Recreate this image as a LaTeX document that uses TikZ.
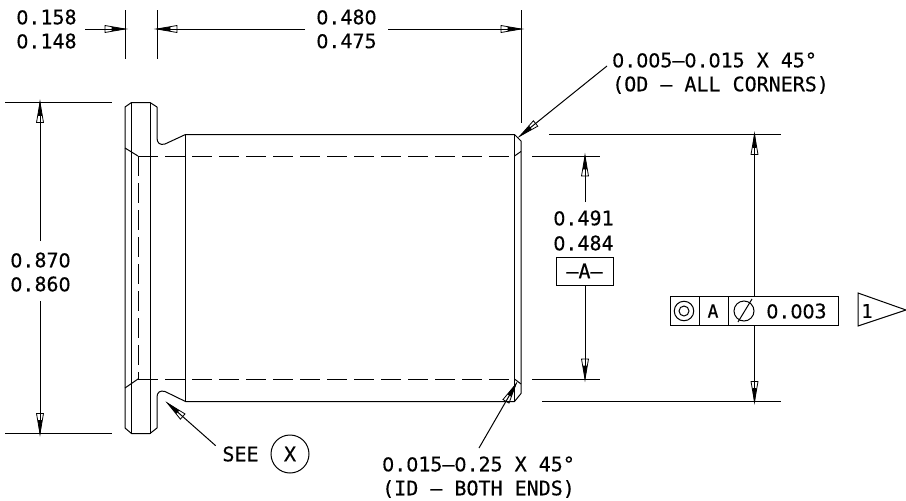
\documentclass[tikz,border=0pt]{standalone}
\usepackage{fontspec}
\newfontfamily\dwg{DejaVu Sans Mono}[FakeBold=0.4]
\newfontfamily\zfont{DejaVu Sans}[FakeBold=0.4,Scale=0.947]
\newcommand\zr{{\zfont 0}}
\pgfdeclarearrow{
  name=Dim,
  setup code={\pgfarrowssettipend{0pt}\pgfarrowssetbackend{-20pt}\pgfarrowssetlineend{-8pt}\pgfarrowssetvisualbackend{-20pt}\pgfarrowshullpoint{0pt}{0pt}\pgfarrowshullpoint{-20pt}{3.5pt}\pgfarrowshullpoint{-20pt}{-3.5pt}},
  drawing code={
    \pgfsetdash{}{0pt}\pgfsetlinewidth{0.8pt}\pgfsetmiterjoin
    \pgfpathmoveto{\pgfpoint{0pt}{0pt}}\pgfpathlineto{\pgfpoint{-20pt}{3.5pt}}\pgfpathlineto{\pgfpoint{-20pt}{-3.5pt}}\pgfpathclose\pgfusepathqstroke
    \pgfpathmoveto{\pgfpoint{0pt}{0pt}}\pgfpathlineto{\pgfpoint{-13pt}{1.7pt}}\pgfpathlineto{\pgfpoint{-13pt}{-1.7pt}}\pgfpathclose\pgfusepathqfillstroke
  }
}
\tikzset{
  obj/.style={draw=black,line width=1pt,line join=round},
  hid/.style={draw=black,line width=1pt,dash pattern=on 20pt off 7pt},
  dimln/.style={draw=black,line width=1pt},
  dimarr/.style={dimln,-{Dim}},
  lbl/.style={font=\dwg\fontsize{20}{24}\selectfont,inner sep=0pt,text=black},
  fcf/.style={draw=black,line width=1pt},
}
\begin{document}
\begin{tikzpicture}[x=1pt,y=-1pt]
\useasboundingbox (0,0) rectangle (906,501);
% part outline
\draw[obj] (131.5,102.5) -- (150,102.5) -- (157,107) -- (157,138) .. controls (157,143) and (160,145.5) .. (165,144) -- (185.5,134.5) -- (514.5,134.5) -- (521,141) -- (521,393.5) -- (514.5,401.5) -- (185.5,401.5) -- (165,391.5) .. controls (160,390) and (157,392.5) .. (157,397) -- (157,428) -- (150,433.5) -- (131.5,433.5) -- (125,428) -- (125,107) -- cycle;
\draw[obj] (131.5,102.5) -- (131.5,433.5);
\draw[obj] (150,102.5) -- (150,433.5);
\draw[obj] (185.5,134.5) -- (185.5,401.5);
\draw[obj] (514.5,134.5) -- (514.5,401.5);
% chamfers and hidden lines
\draw[obj] (125,148) -- (138,156);
\draw[obj] (125,388) -- (138,379);
\draw[obj] (514.5,156) -- (521,151.5);
\draw[obj] (514.5,379) -- (521,384);
\draw[hid] (138,156) -- (514.5,156);
\draw[hid] (138,379) -- (514.5,379);
\draw[hid] (138,156) -- (138,379);
% extension lines
\draw[dimln] (125,10) -- (125,59);
\draw[dimln] (157,10) -- (157,59);
\draw[dimln] (521,10) -- (521,123);
\draw[dimln] (5,102.5) -- (112,102.5);
\draw[dimln] (5,433.5) -- (112,433.5);
\draw[obj] (549,134.5) -- (781,134.5);
\draw[obj] (542,401.5) -- (781,401.5);
\draw[dimln] (532,156) -- (600,156);
\draw[dimln] (532,379) -- (600,379);
% labels
\node[lbl] (a1) at (46.5,17) {\zr.158};
\node[lbl] (a2) at (46.5,41) {\zr.148};
\node[lbl] (b1) at (346.5,17) {\zr.48\zr};
\node[lbl] (b2) at (346.5,41) {\zr.475};
\node[lbl] (c1) at (40.5,260) {\zr.87\zr};
\node[lbl] (c2) at (40.5,284) {\zr.86\zr};
\node[lbl] (d1) at (583.5,218) {\zr.491};
\node[lbl] (d2) at (583.5,243) {\zr.484};
\node[draw=black,line width=1pt,lbl,minimum width=57pt,minimum height=28pt] (datum) at (584.5,271) {–A–};
\node[lbl,anchor=west] (chtop) at (612,60) {\zr.\zr\zr5–\zr.\zr15 X 45°};
\node[lbl,anchor=west] (chtop2) at (612,85) {(OD – ALL CORNERS)};
\node[lbl,anchor=west] (chbot) at (382,464) {\zr.\zr15–\zr.25 X 45°};
\node[lbl,anchor=west] (chbot2) at (382,489) {(ID – BOTH ENDS)};
\node[lbl] (see) at (240.5,454) {SEE};
\node[draw=black,line width=1pt,circle,minimum size=38pt,lbl] (x) at (290,454) {X};
% dimension lines
\coordinate (t1) at (125,29); \coordinate (t1b) at (85,29);
\coordinate (t2) at (157,29); \coordinate (t2b) at (305,29);
\coordinate (t3) at (521,29); \coordinate (t3b) at (388,29);
\draw[dimarr] (t1b) -- (t1);
\draw[dimarr] (t2b) -- (t2);
\draw[dimarr] (t3b) -- (t3);
\coordinate (l1) at (40,102.5); \coordinate (l2) at (40,433.5);
\coordinate (l1b) at (40,241); \coordinate (l2b) at (40,301);
\draw[dimarr] (l1b) -- (l1);
\draw[dimarr] (l2b) -- (l2);
\coordinate (m1) at (585,156); \coordinate (m2) at (585,379);
\coordinate (m1b) at (585,202);
\draw[dimarr] (m1b) -- (m1);
\draw[dimarr] (datum.south -| m2) -- (m2);
% leaders
\coordinate (ltip1) at (520,136);
\coordinate (ltail1) at (607,66);
\draw[dimarr] (ltail1) -- (ltip1);
\coordinate (ltip2) at (516,384);
\coordinate (ltail2) at (479,448);
\draw[dimarr] (ltail2) -- (ltip2);
\coordinate (ltip3) at (167.7,403.3);
\coordinate (ltail3) at (215.7,445.7);
\draw[dimarr] (ltail3) -- (ltip3);
% feature control frame
\node[fcf,minimum width=168pt,minimum height=29pt,inner sep=0pt] (frame) at (754,310.5) {};
\coordinate (r1) at (754.5,134.5); \coordinate (r2) at (754.5,401.5);
\draw[dimarr] (frame.north -| r1) -- (r1);
\draw[dimarr] (frame.south -| r2) -- (r2);
\draw[fcf] (699.5,296) -- (699.5,325);
\draw[fcf] (728,296) -- (728,325);
\node[draw=black,line width=1pt,circle,minimum size=19.5pt,inner sep=0pt] (conc1) at (684,311) {};
\node[draw=black,line width=1pt,circle,minimum size=10pt,inner sep=0pt] (conc2) at (684,311) {};
\node[lbl,font=\dwg\fontsize{18}{20}\selectfont] (dat) at (713,311) {A};
\node[draw=black,line width=1pt,circle,minimum size=20pt,inner sep=0pt] (dia) at (744,311) {};
\draw[line width=1pt] (738,322) -- (752,299);
\node[lbl] (tol) at (796.5,311) {\zr.\zr\zr3};
% flag
\draw[fcf,line join=miter] (858,293) -- (906,310) -- (858,326) -- cycle;
\node[lbl,font=\dwg\fontsize{19}{20}\selectfont] (one) at (867,311) {1};
\end{tikzpicture}
\end{document}
